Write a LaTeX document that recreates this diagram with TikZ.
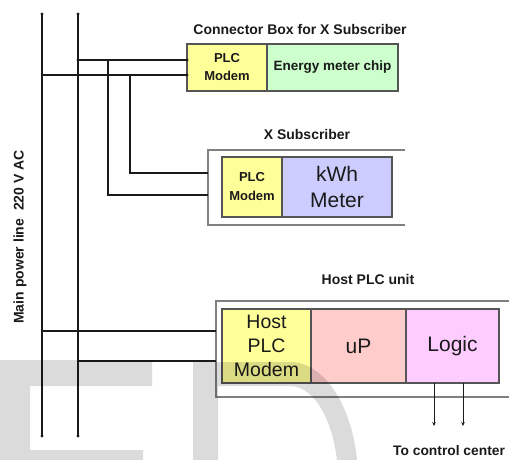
\documentclass[tikz,border=0pt]{standalone}
\usepackage{fontspec}
\setmainfont{Liberation Sans}
\usetikzlibrary{arrows.meta}
\definecolor{pyellow}{HTML}{FFFF99}
\definecolor{pgreen}{HTML}{CCFFCC}
\definecolor{pblue}{HTML}{CCCCFF}
\definecolor{ppink}{HTML}{FFCCCC}
\definecolor{pmag}{HTML}{FFCCFF}
\definecolor{edgegray}{HTML}{555555}
\definecolor{framegray}{HTML}{808080}
\definecolor{ink}{HTML}{1A1A1A}
\tikzset{
  part/.style={draw=edgegray, line width=1.3pt, inner sep=0pt, outer sep=0pt, anchor=north west, align=center, text=ink},
  frame/.style={inner sep=0pt, outer sep=0pt, anchor=north west},
  frameline/.style={draw=framegray, line width=1.3pt},
  boldlbl/.style={font=\fontsize{14}{17}\selectfont\bfseries, text=ink, inner sep=0pt},
  biglbl/.style={font=\fontsize{20}{24}\selectfont},
  wire/.style={line width=1.3pt, draw=ink},
  mainwire/.style={line width=2pt, draw=ink},
  dot/.style={circle, fill=ink, inner sep=0pt, minimum size=3.2pt},
  watermark/.style={fill=black, fill opacity=0.14, draw=none}
}
\begin{document}
\begin{tikzpicture}[x=1pt,y=-1pt]
\useasboundingbox (0,0) rectangle (509,459);

% ---- Connector box
\node[boldlbl] (cbtitle) at (300,29) {Connector Box for X Subscriber};
\node[part, fill=pyellow, minimum width=80pt, minimum height=47pt,
      font=\fontsize{13}{18}\selectfont\bfseries] (cbm) at (187,44) {PLC\\Modem};
\node[part, fill=pgreen, minimum width=131pt, minimum height=47pt,
      font=\fontsize{13.5}{16}\selectfont\bfseries] (cbe) at (267,44) {Energy meter chip};

% ---- X Subscriber
\node[boldlbl] (xtitle) at (307,134) {X Subscriber};
\node[frame, minimum width=197pt, minimum height=75pt] (xout) at (208,150) {};
\draw[frameline] (xout.north east) -- (xout.north west) -- (xout.south west) -- (xout.south east);
\node[part, fill=pyellow, minimum width=60pt, minimum height=60pt,
      font=\fontsize{13}{19}\selectfont\bfseries] (xm) at (222,157) {PLC\\Modem};
\node[part, fill=pblue, minimum width=110pt, minimum height=60pt,
      font=\fontsize{21}{26}\selectfont] (xk) at (282,157) {kWh\\Meter};

% ---- Host PLC unit
\node[boldlbl] (htitle) at (368,279) {Host PLC unit};
\node[frame, minimum width=293pt, minimum height=96pt] (hout) at (216,301) {};
\draw[frameline] (hout.north east) -- (hout.north west) -- (hout.south west) -- (hout.south east);
\node[part, fill=pyellow, minimum width=89pt, minimum height=74pt,
      font=\fontsize{19.5}{24}\selectfont] (hm) at (222,309) {Host\\PLC\\Modem};
\node[part, fill=ppink, minimum width=95pt, minimum height=74pt,
      font=\fontsize{21}{24}\selectfont] (hu) at (311,309) {uP};
\node[part, fill=pmag, minimum width=93pt, minimum height=74pt,
      font=\fontsize{21}{24}\selectfont] (hl) at (406,309) {Logic};

% ---- main power lines
\coordinate (m1t) at (42,14);
\coordinate (m1b) at (42,436);
\coordinate (m2t) at (78,14);
\coordinate (m2b) at (78,436);
\draw[mainwire] (m1t) -- (m1b);
\draw[wire, line width=1.6pt] (m2t) -- (m2b);
\foreach \p in {m1t,m1b,m2t,m2b} \node[dot] at (\p) {};
\node[rotate=90, font=\fontsize{14}{17}\selectfont\bfseries, text=ink, inner sep=0pt] (vlabel) at (20,237) {Main power line\ \ 220 V AC};

% ---- connections to connector box
\coordinate (a1) at (78,60);
\coordinate (b1) at (42,75);
\draw[wire] (a1) -- (a1 -| cbm.west);
\draw[wire] (b1) -- (b1 -| cbm.west);
\node[dot] at (a1) {};
\node[dot] at (a1 -| cbm.west) {};
\node[dot] at (b1 -| cbm.west) {};

% ---- branches to X subscriber
\coordinate (c1) at (108,60);
\coordinate (c2) at (108,195);
\coordinate (d1) at (130,75);
\coordinate (d2) at (130,173);
\draw[wire] (c1) -- (c2) -- (c2 -| xout.west);
\draw[wire] (d1) -- (d2) -- (d2 -| xout.west);

% ---- host connections
\coordinate (e1) at (42,331);
\coordinate (f1) at (78,361);
\draw[wire] (e1) -- (e1 -| hout.west);
\draw[wire] (f1) -- (f1 -| hout.west);

% ---- to control center
\node[font=\fontsize{13.8}{16}\selectfont\bfseries, text=ink, inner sep=0pt, anchor=west] (cc) at (393,451) {To control center};
\coordinate (g1) at (434,383);
\coordinate (g2) at (463,383);
\draw[wire, line width=1pt, -{Stealth[length=4pt,width=3.5pt]}] (g1) -- (g1 |- 0,426);
\draw[wire, line width=1pt, -{Stealth[length=4pt,width=3.5pt]}] (g2) -- (g2 |- 0,426);

% ---- watermark letters
\begin{scope}
\clip (0,0) rectangle (509,459);
\fill[watermark] (0,360) -- (152,360) -- (152,386) -- (30,386) -- (30,450) -- (143,450) -- (143,470) -- (0,470) -- cycle;
\fill[watermark, even odd rule]
  (193,362) -- (290,362) arc[start angle=-90, end angle=0, x radius=68, y radius=118] -- (358,480) -- (193,480) -- cycle
  (218,386) -- (290,386) arc[start angle=-90, end angle=0, x radius=48, y radius=94] -- (338,480) -- (218,480) -- cycle;
\end{scope}
\end{tikzpicture}
\end{document}
